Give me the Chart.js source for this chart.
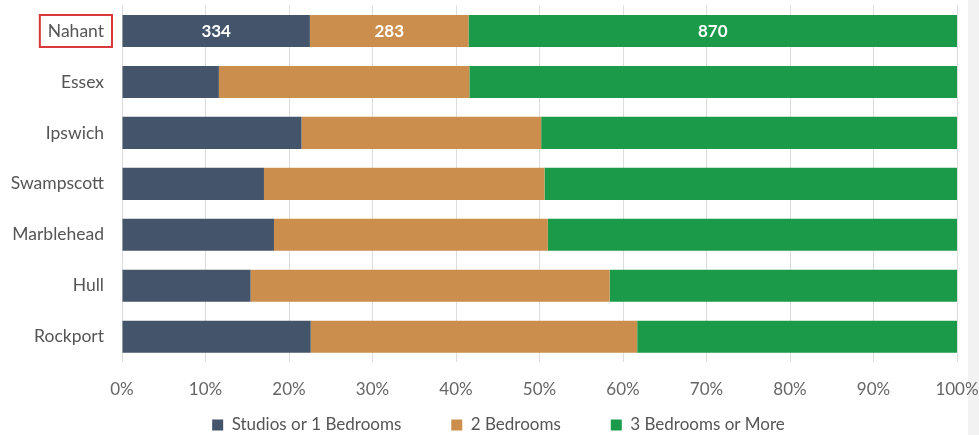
<!DOCTYPE html>
<html lang="en">
<head>
<meta charset="UTF-8">
<title>bedrooms by town</title>
<script src="https://cdn.jsdelivr.net/npm/chart.js"></script>
<style>
  html, body { margin: 0; padding: 0; background: #fff; }
  #wrap { position: relative; width: 979px; height: 435px; }
  #strip { position: absolute; right: 0; top: 0; width: 11px; height: 435px; background: #f2f2f2; z-index: 0; }
  #myChart { position: relative; z-index: 1; }
</style>
</head>
<body>
<div id="wrap">
  <div id="strip"></div>
  <canvas id="myChart" width="979" height="435"></canvas>
</div>
<script>
// towns, top to bottom
const towns = ['Nahant', 'Essex', 'Ipswich', 'Swampscott', 'Marblehead', 'Hull', 'Rockport'];
// share of units (%)
const studios = [22.5, 11.6, 21.5, 17.0, 18.2, 15.4, 22.6];
const twoBed = [19.0, 30.0, 28.7, 33.6, 32.8, 43.0, 39.1];
const threePlus = [58.5, 58.4, 49.8, 49.4, 49.0, 41.6, 38.3];
// counts printed on the highlighted town
const nahantCounts = [334, 283, 870];
const seriesNames = ['Studios or 1 Bedrooms', '2 Bedrooms', '3 Bedrooms or More'];
const xTicks = [0, 10, 20, 30, 40, 50, 60, 70, 80, 90, 100];

const FONT = 'Lato, "Noto Sans", sans-serif';

// white counts in the Nahant bar
const countLabels = {
    id: 'countLabels',
    afterDatasetsDraw(chart) {
        const c = chart.ctx;
        c.save();
        c.fillStyle = '#ffffff';
        c.font = 'bold 17px ' + FONT;
        c.textAlign = 'center';
        c.textBaseline = 'middle';
        chart.data.datasets.forEach(function (ds, i) {
            const bar = chart.getDatasetMeta(i).data[0];
            const left = Math.min(bar.x, bar.base);
            const right = Math.max(bar.x, bar.base);
            c.fillText(String(nahantCounts[i]), (left + right) / 2, bar.y + 1);
        });
        c.restore();
    }
};

// red frame round the first town label
const highlight = {
    id: 'highlight',
    afterDraw(chart) {
        const y = chart.scales.y;
        const cy = y.getPixelForValue(0);
        const c = chart.ctx;
        c.save();
        c.font = '17.5px ' + FONT;
        const w = c.measureText(towns[0]).width;
        const right = y.right - 10;
        c.strokeStyle = '#d8373a';
        c.lineWidth = 2;
        c.strokeRect(right - w - 16, cy - 16, w + 16, 32);
        c.restore();
    }
};

// legend sits a bit right of the canvas centre
const legendShift = {
    id: 'legendShift',
    afterLayout(chart) {
        if (chart.legend) chart.legend.left += 40;
    }
};

let ctx = document.getElementById('myChart');
let myChart = new Chart(ctx, {
    type: 'bar',
    data: {
        labels: towns,
        datasets: [
            { label: seriesNames[0], data: studios, backgroundColor: '#44546a' },
            { label: seriesNames[1], data: twoBed, backgroundColor: '#cc8e4c' },
            { label: seriesNames[2], data: threePlus, backgroundColor: '#1b9b4a' }
        ]
    },
    options: {
        responsive: false,
        animation: false,
        indexAxis: 'y',
        layout: { padding: { top: 5.5, right: 22, left: 0, bottom: -8.5 } },
        datasets: { bar: { categoryPercentage: 1, barPercentage: 0.63, borderWidth: 0 } },
        scales: {
            x: {
                stacked: true,
                min: 0,
                max: 100,
                afterBuildTicks: function (s) { s.ticks = xTicks.map(v => ({ value: v })); },
                afterFit: function (s) {
                    s.height = 4.3;
                    s.paddingLeft = 0;
                    s.paddingRight = 0;
                },
                grid: { color: '#dddddd', drawTicks: false },
                border: { display: false },
                ticks: {
                    color: '#666666',
                    font: { family: FONT, size: 17 },
                    mirror: true,
                    padding: -38,
                    maxRotation: 0,
                    callback: v => v + '%'
                }
            },
            y: {
                stacked: true,
                afterFit: function (s) {
                    s.width = 122;
                    s.paddingTop = 0;
                    s.paddingBottom = 0;
                },
                grid: { display: false, drawTicks: false },
                border: { display: false },
                ticks: { color: '#555555', font: { family: FONT, size: 17.5 }, padding: 18 }
            }
        },
        plugins: {
            legend: {
                position: 'bottom',
                labels: {
                    color: '#555555',
                    font: { family: FONT, size: 17 },
                    boxWidth: 11,
                    boxHeight: 11,
                    padding: 50
                }
            },
            tooltip: { enabled: false }
        }
    },
    plugins: [countLabels, highlight, legendShift]
});
</script>
</body>
</html>
